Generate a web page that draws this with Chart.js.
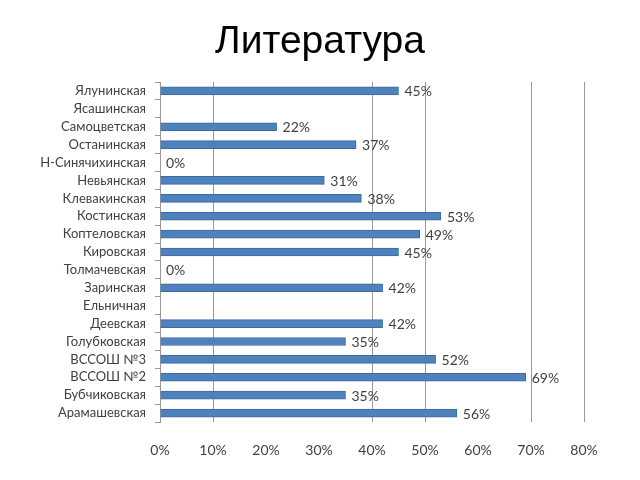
<!DOCTYPE html>
<html><head><meta charset="utf-8">
<script src="https://cdn.jsdelivr.net/npm/chart.js@4"></script>
<style>html,body{margin:0;padding:0;background:#fff}#wrap{width:640px;height:480px}</style>
</head><body><div id="wrap"><canvas id="c" width="640" height="480"></canvas></div>
<script>
const titleText = "Литература";
const categories = ["Ялунинская","Ясашинская","Самоцветская","Останинская","Н-Синячихинская","Невьянская","Клевакинская","Костинская","Коптеловская","Кировская","Толмачевская","Заринская","Ельничная","Деевская","Голубковская","ВССОШ №3","ВССОШ №2","Бубчиковская","Арамашевская"];
const values = [45,null,22,37,0,31,38,53,49,45,0,42,null,42,35,52,69,35,56];
const xTicks = [0,10,20,30,40,50,60,70,80];
const hiddenGrid = [20,30,60];

const labelPlugin = {
  id:'barLabels',
  afterDatasetsDraw(chart){
    const ctx = chart.ctx;
    const meta = chart.getDatasetMeta(0);
    ctx.save();
    ctx.font = '14px Lato';
    ctx.fillStyle = '#404040';
    ctx.textAlign = 'left';
    ctx.textBaseline = 'middle';
    meta.data.forEach((bar,i)=>{
      const v = values[i];
      if (v === null || v === undefined) return;
      ctx.fillText(v + '%', bar.x + 6, bar.y + 1);
    });
    ctx.restore();
  }
};
const titlePlugin = {
  id:'pageTitle',
  afterDraw(chart){
    const ctx = chart.ctx;
    ctx.save();
    ctx.font = '39px "Liberation Sans"';
    ctx.fillStyle = '#000';
    ctx.textAlign = 'center';
    ctx.textBaseline = 'middle';
    ctx.fillText(titleText, chart.width/2, 42);
    ctx.restore();
  }
};

new Chart(document.getElementById('c'), {
  type:'bar',
  data:{labels:categories, datasets:[{data:values, backgroundColor:'#4F81BD', borderColor:'#3A6A9F', borderWidth:1, barThickness:8}]},
  options:{
    indexAxis:'y', responsive:false, animation:false,
    layout:{padding:{left:0,right:56,top:82,bottom:18}},
    plugins:{legend:{display:false}, tooltip:{enabled:false}, title:{display:false}},
    scales:{
      x:{min:0,max:80,
        afterFit(s){ s.height = 40; },
        afterBuildTicks(s){ s.ticks = xTicks.map(v=>({value:v})); },
        ticks:{callback:v=>v+'%', color:'#404040', font:{family:'Lato', size:14}, padding:20},
        grid:{color:c=> (c.tick && hiddenGrid.includes(c.tick.value)) ? 'rgba(0,0,0,0)' : '#9a9a9a', drawTicks:false, lineWidth:1},
        border:{display:false}
      },
      y:{
        afterFit(s){ s.width = 160; },
        ticks:{color:'#404040', font:{family:'Lato', size:13}, padding:9, autoSkip:false},
        grid:{drawOnChartArea:false, drawTicks:true, tickLength:5, color:'#9a9a9a', offset:true},
        border:{display:true, color:'#9a9a9a'}
      }
    }
  },
  plugins:[labelPlugin, titlePlugin]
});
</script>
</body></html>
